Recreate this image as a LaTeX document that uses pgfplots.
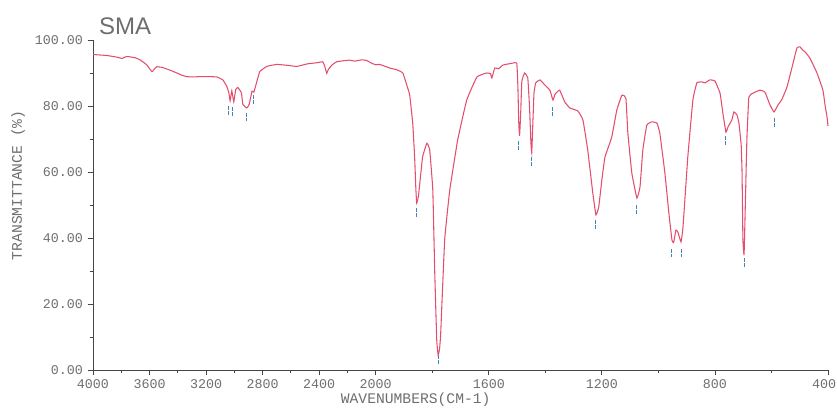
\documentclass[border=0pt]{standalone}
\usepackage{fontspec}
\setmainfont{Liberation Sans}
\setmonofont{Liberation Mono}
\usepackage{pgfplots}
\usepackage{pgfplotstable}
\pgfplotsset{compat=1.18}

\definecolor{irline}{RGB}{228,78,110}
\definecolor{peakmk}{RGB}{70,130,185}
\definecolor{txtgray}{RGB}{110,110,110}
\definecolor{axgray}{RGB}{70,70,70}

% IR spectrum, wavenumber (cm-1) vs transmittance (%)
\pgfplotstableread{
nu T
4000 95.6
3965 95.5
3900 95.3
3830 94.8
3795 94.4
3770 94.9
3753 95.0
3700 94.6
3668 94.0
3620 92.5
3583 90.4
3560 91.5
3548 91.9
3510 91.7
3477 91.2
3440 90.6
3406 90.0
3370 89.3
3336 88.9
3290 88.8
3244 88.9
3180 88.9
3124 88.8
3081 87.9
3053 85.9
3039 84.0
3030 81.6
3018 84.6
3004 81.3
2990 85.0
2975 85.6
2950 84.0
2940 80.5
2912 79.4
2895 80.5
2875 84.5
2862 84.2
2850 86.0
2820 90.4
2770 92.0
2700 92.6
2620 92.3
2558 92.0
2480 92.8
2417 93.1
2375 93.4
2360 92.0
2346 89.9
2336 91.0
2310 92.4
2276 93.4
2230 93.7
2184 93.9
2150 93.6
2134 93.7
2100 94.0
2064 93.8
2030 93.0
2000 92.5
1986 92.6
1950 91.5
1926 91.0
1904 90.0
1887 85.5
1880 83.5
1869 74.8
1862 64.0
1858 55.0
1855 50.6
1849 52.5
1844 56.6
1834 64.6
1819 68.7
1809 66.7
1798 54.5
1791 29.3
1784 9.0
1779 4.5
1774 6.5
1770 11.2
1756 39.4
1738 54.5
1710 69.7
1678 81.8
1642 88.8
1607 90.0
1594 89.8
1589 88.5
1579 91.5
1565 91.3
1550 92.4
1515 93.0
1501 93.0
1497 86.0
1494 75.0
1491 71.0
1487 78.0
1483 87.5
1473 90.0
1462 88.5
1456 80.0
1451 69.0
1448 65.8
1444 75.0
1440 84.0
1434 87.0
1419 87.9
1402 86.4
1384 84.8
1373 81.8
1366 83.5
1359 84.2
1349 84.8
1331 81.2
1313 79.4
1285 78.5
1267 75.8
1250 66.7
1232 53.6
1221 47.0
1211 49.4
1200 57.6
1189 64.5
1165 70.6
1147 78.8
1129 83.3
1115 82.4
1108 71.8
1094 59.7
1076 52.1
1065 55.5
1055 66.7
1041 74.2
1023 75.2
1005 74.8
995 71.8
977 59.7
963 47.6
952 39.4
946 38.6
938 42.4
931 41.8
920 38.8
913 43.3
896 64.5
878 81.8
864 87.0
846 87.3
835 87.0
818 87.9
800 87.6
782 83.9
772 77.9
761 72.1
754 73.6
740 75.8
733 78.2
722 77.3
715 74.8
707 68.0
704 59.7
701 39.4
697 34.8
694 44.5
687 69.7
680 82.7
665 83.9
641 84.8
623 84.2
605 80.3
591 78.2
577 80.3
563 82.0
545 85.8
527 91.8
510 97.6
499 97.9
490 97.0
481 96.4
464 94.5
439 90.0
418 84.8
410 80.0
404 77.0
400 74.0
}\spectrum

% peak-pick markers
\pgfplotstableread{
nu T
3039 78.5
3011 78.2
2912 76.4
2862 81.8
1855 47.6
1779 3.0
1494 67.9
1448 63.0
1373 78.2
1221 43.9
1076 48.5
952 35.2
920 35.2
761 69.4
697 32.4
591 74.8
}\peaks

\begin{document}
\begin{tikzpicture}
\useasboundingbox (-69.75pt,-31.5pt) rectangle (558pt,277.5pt);
\begin{axis}[
  at={(0,0)}, anchor=south west,
  scale only axis, width=551.25pt, height=247.5pt,
  x coord trafo/.code={\pgfmathparse{ifthenelse(#1>=2000,(4000-#1)/2,3000-#1)}},
  xmin=4000, xmax=400, ymin=0, ymax=100,
  axis lines*=left,
  axis line style={axgray, line width=0.6pt},
  tick style={axgray, line width=0.6pt},
  tick align=outside,
  major tick length=4pt, minor tick length=2.5pt,
  xtick={4000,3600,3200,2800,2400,2000,1600,1200,800,400},
  xticklabels={4000,3600,3200,2800,2400,2000,1600,1200,800,{\makebox[0pt][r]{400\kern-6pt}}},
  minor xtick={3800,3400,3000,2600,2200,1800,1400,1000,600},
  ytick={0,20,40,60,80,100},
  minor ytick={10,30,50,70,90},
  /pgf/number format/assume math mode=true,
  yticklabel style={/pgf/number format/.cd, fixed, fixed zerofill, precision=2},
  ticklabel style={font=\ttfamily\fontsize{10}{10}\selectfont, text=txtgray},
  xlabel={WAVENUMBERS(CM-1)},
  ylabel={TRANSMITTANCE (\%)},
  label style={font=\ttfamily\fontsize{11}{11}\selectfont, text=txtgray},
  xlabel style={at={(axis description cs:0.439,-0.091)}, anchor=center},
  ylabel style={at={(axis description cs:-0.102,0.56)}, anchor=center},
  title={SMA},
  title style={at={(axis description cs:0,1)}, anchor=base west, xshift=1pt, yshift=-1.5pt,
    font=\fontsize{18}{18}\selectfont, text=txtgray},
  clip=false,
]
\addplot[irline, line width=0.8pt, smooth, tension=0.2] table[x=nu, y=T] {\spectrum};
\addplot[only marks, peakmk, mark=|, mark size=3.5pt,
  mark options={line width=0.7pt, dash pattern=on 2.5pt off 1.2pt}] table[x=nu, y=T] {\peaks};
\end{axis}
\end{tikzpicture}
\end{document}
